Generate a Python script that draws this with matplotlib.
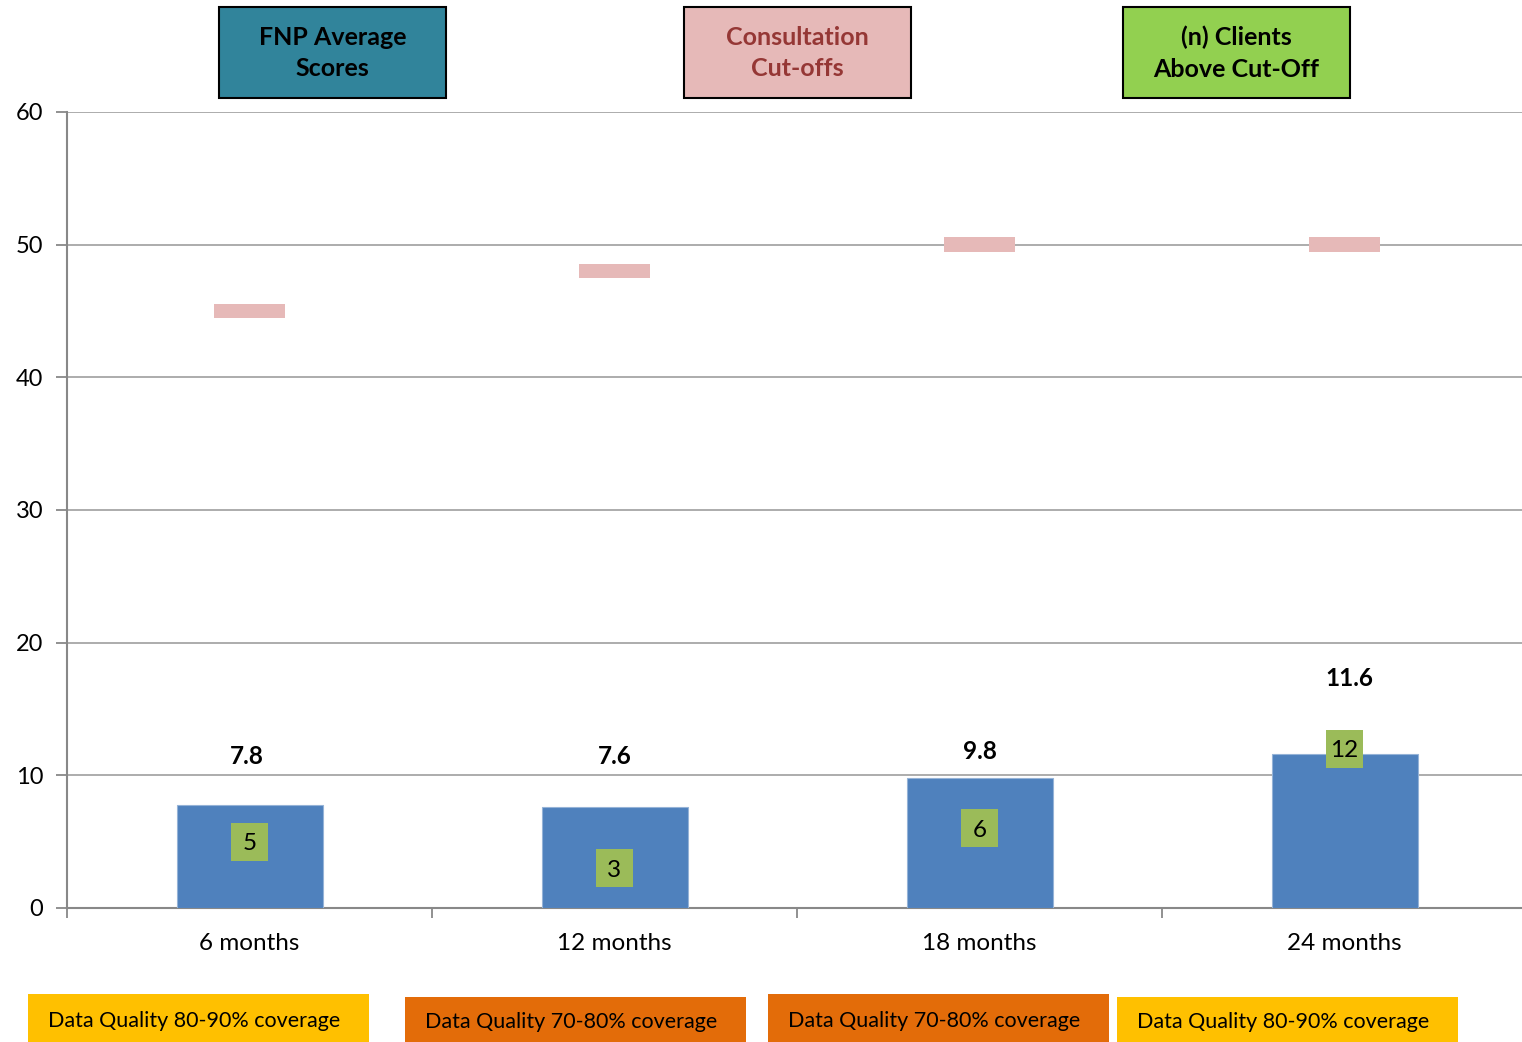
import numpy as np
import matplotlib
matplotlib.use('Agg')
from matplotlib import pyplot as plt
from matplotlib.patches import Rectangle

plt.rcParams['font.family'] = ['Lato', 'DejaVu Sans']

# data
categories = ['6 months', '12 months', '18 months', '24 months']
fnp_scores = [7.8, 7.6, 9.8, 11.6]
cutoffs = [45, 48, 50, 50]
clients_above = [5, 3, 6, 12]
quality_labels = ['Data Quality 80-90% coverage', 'Data Quality 70-80% coverage',
                  'Data Quality 70-80% coverage', 'Data Quality 80-90% coverage']
quality_colors = ['#FFC000', '#E36C09', '#E36C09', '#FFC000']

# where the bold score labels sit (data units)
score_label_y = [11.45, 11.45, 11.8, 17.3]
score_label_dx = [-0.007, 0.0, 0.0, 0.014]

W, H = 1522, 1042
fig = plt.figure(figsize=(W / 100, H / 100), dpi=100)

def fx(px):
    return px / W

def fy(py):
    return 1 - py / H

# axes runs slightly past the right edge of the figure, as in the original
ax = fig.add_axes([fx(67), fy(908), fx(1460), (908 - 112) / H])
x = np.arange(len(categories))

ax.bar(x, fnp_scores, width=0.4, color='#4F81BD', edgecolor='#95B3D7', linewidth=0.8, zorder=3)
ax.bar(x, [1.1] * len(cutoffs), bottom=np.array(cutoffs) - 0.55, width=0.195,
       color='#E6B9B8', zorder=3)

for xi, n in zip(x, clients_above):
    ax.add_patch(Rectangle((xi - 0.052, n - 1.43), 0.104, 2.86, facecolor='#9BBB59',
                           edgecolor='none', zorder=4))
    ax.text(xi, n - 0.15, str(n), ha='center', va='center', fontsize=17.5, zorder=5)

for xi, v, ly, dx in zip(x, fnp_scores, score_label_y, score_label_dx):
    ax.text(xi + dx, ly, f'{v}', ha='center', va='center', fontsize=17.5,
            fontweight='bold', zorder=5)

ax.set_xlim(-0.5, 3.5)
ax.set_ylim(0, 60)
ax.set_yticks(range(0, 61, 10))
ax.yaxis.grid(True, color='#A6A6A6', linewidth=1.3, zorder=0)
ax.set_axisbelow(True)
ax.tick_params(axis='y', length=8, width=1.3, color='#888888', labelsize=17, pad=9)

ax.set_xticks([-0.5, 0.5, 1.5, 2.5, 3.5])
ax.set_xticklabels([])
ax.set_xticks(x, minor=True)
ax.set_xticklabels(categories, minor=True)
ax.tick_params(axis='x', which='major', length=7, width=1.3, color='#888888')
ax.tick_params(axis='x', which='minor', length=0, labelsize=17.5, pad=18)

for s in ['top', 'right']:
    ax.spines[s].set_visible(False)
for s in ['left', 'bottom']:
    ax.spines[s].set_color('#888888')
    ax.spines[s].set_linewidth(1.5)

# header boxes
headers = [('FNP Average\nScores', 219, '#31849B', 'black'),
           ('Consultation\nCut-offs', 684, '#E6B9B8', '#953735'),
           ('(n) Clients\nAbove Cut-Off', 1123, '#92D050', 'black')]
for txt, left, fc, tc in headers:
    fig.patches.append(Rectangle((fx(left), fy(98)), fx(227), 91 / H, transform=fig.transFigure,
                                 facecolor=fc, edgecolor='black', linewidth=1.5))
    fig.text(fx(left + 113.5), fy(53), txt, ha='center', va='center', fontsize=18,
             fontweight='bold', color=tc, linespacing=1.45)

# data quality boxes
quality_pos = [(28, 994), (405, 997), (768, 994), (1117, 997)]
for lab, col, (left, top) in zip(quality_labels, quality_colors, quality_pos):
    fig.patches.append(Rectangle((fx(left), fy(1042)), fx(341), (1042 - top) / H,
                                 transform=fig.transFigure, facecolor=col, edgecolor='none'))
    fig.text(fx(left + 20), fy((top + 1042) / 2 + 3), lab, ha='left', va='center', fontsize=15.5)

fig.savefig('out.png', dpi=100)
